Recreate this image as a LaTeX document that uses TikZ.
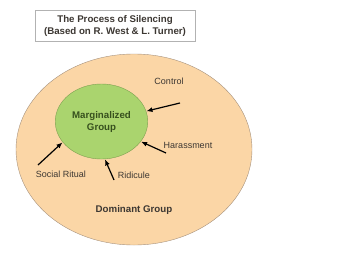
\documentclass[tikz,border=0pt]{standalone}
\usepackage{fontspec}
\setmainfont{Liberation Sans}
\usetikzlibrary{arrows.meta,shapes.geometric,positioning}
\definecolor{PeachFill}{RGB}{251,214,166}
\definecolor{PeachLine}{RGB}{165,145,125}
\definecolor{LeafFill}{RGB}{170,212,110}
\definecolor{LeafLine}{RGB}{125,160,80}
\definecolor{LeafText}{RGB}{55,80,30}
\definecolor{InkGray}{RGB}{60,55,50}
\tikzset{
  label text/.style={font=\fontsize{9}{11}\selectfont,text=InkGray,inner sep=0pt},
  group text/.style={font=\fontsize{9.7}{12}\selectfont\bfseries,align=center},
  push/.style={->,line width=1.2pt,shorten >=0.5pt}
}

\begin{document}
\begin{tikzpicture}[x=1pt,y=-1pt,>={Latex[length=6pt,width=5pt]}]
  \useasboundingbox (0,0) rectangle (352,262);
  % title box
  \node[draw=gray!60,fill=white,minimum width=160pt,minimum height=31pt,
        group text,text=InkGray] (title) at (115,25.5)
        {The Process of Silencing\\(Based on R. West \& L. Turner)};
  % groups
  \node[ellipse,draw=PeachLine,fill=PeachFill,minimum width=236pt,
        minimum height=191pt,outer sep=0pt] (dom) at (134,149.5) {};
  \node[ellipse,draw=LeafLine,fill=LeafFill,minimum width=81pt,
        minimum height=75pt,outer sep=0pt,group text,text=LeafText]
        (marg) at (101.5,121.5) {Marginalized\\Group};
  \node[group text,text=InkGray] (domlabel) at (134,210) {Dominant Group};
  % forces
  \coordinate (ctrl) at (180,103);
  \coordinate (har) at (166,153);
  \coordinate (rid) at (114,180);
  \coordinate (soc) at (38,165);
  \node[label text] (ctrltext) at (169,81) {Control};
  \node[label text] (hartext) at (188,145) {Harassment};
  \node[label text] (ridtext) at (134,175) {Ridicule};
  \node[label text] (soctext) at (61,174) {Social Ritual};
  \draw[push] (ctrl) -- (marg.13);
  \draw[push] (har) -- (marg.-27);
  \draw[push] (rid) -- (marg.-85);
  \draw[push] (soc) -- (marg.208);
\end{tikzpicture}
\end{document}
